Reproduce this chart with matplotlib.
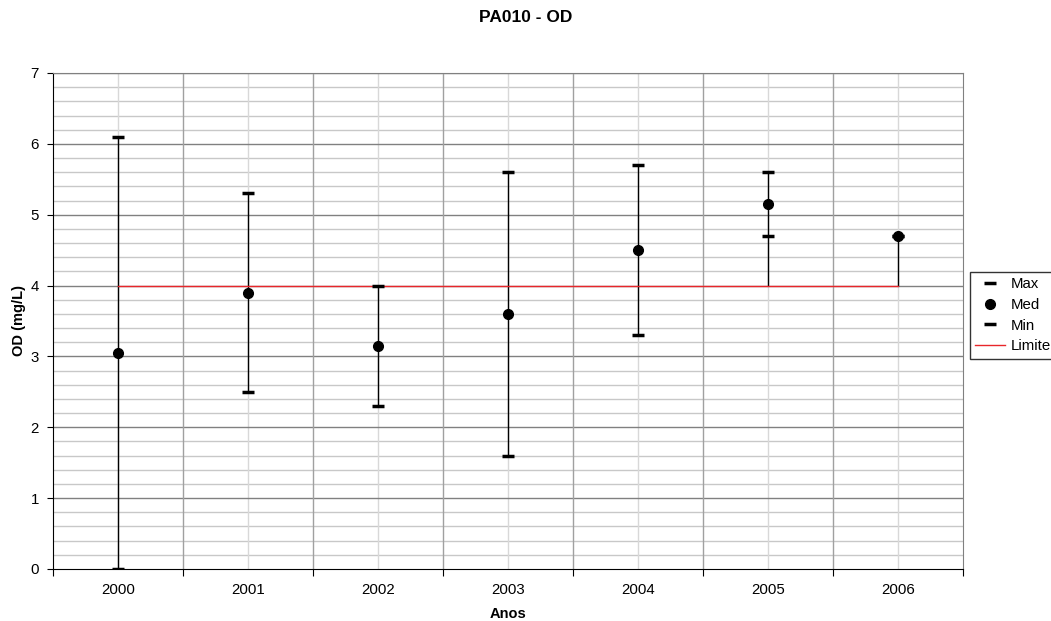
import numpy as np
import matplotlib
matplotlib.use("Agg")
import matplotlib.pyplot as plt
from matplotlib.ticker import MultipleLocator

plt.rcParams['font.family'] = ['Liberation Sans', 'DejaVu Sans']

years = ['2000', '2001', '2002', '2003', '2004', '2005', '2006']
max_vals = [6.1, 5.3, 4.0, 5.6, 5.7, 5.6, 4.7]
med_vals = [3.05, 3.9, 3.15, 3.6, 4.5, 5.15, 4.7]
min_vals = [0.0, 2.5, 2.3, 1.6, 3.3, 4.7, 4.7]
limite = [4, 4, 4, 4, 4, 4, 4]

fig = plt.figure(figsize=(10.51, 6.21), dpi=100)
ax = fig.add_axes([53/1051, 1-569/621, 910/1051, (569-73)/621])

x = np.arange(len(years))
allv = np.vstack([max_vals, med_vals, min_vals, limite])
lo = allv.min(axis=0)
hi = allv.max(axis=0)

ax.set_xlim(-0.5, len(years)-0.5)
ax.set_ylim(0, 7)

# grid
ax.yaxis.set_major_locator(MultipleLocator(1))
for yv in np.arange(0.2, 7.0, 0.2):
    if abs(yv - round(yv)) < 1e-6:
        continue
    ax.axhline(yv, color='#c8c8c8', lw=1.0, zorder=0)
for yv in range(1, 8):
    ax.axhline(yv, color='#808080', lw=1.0, zorder=0.5)
for xv in x:
    ax.axvline(xv, color='#d8d8d8', lw=1.0, zorder=0)
for xv in np.arange(0.5, len(years)-0.5, 1):
    ax.axvline(xv, color='#a0a0a0', lw=1.0, zorder=0.5)

ax.vlines(x, lo, hi, color='black', lw=1.0, zorder=2)
l_lim, = ax.plot(x, limite, color='#e8262a', lw=1.0, zorder=3, label='Limite')
l_max, = ax.plot(x, max_vals, ls='none', marker='_', ms=8, mew=2.5, color='black', zorder=4, label='Max')
l_min, = ax.plot(x, min_vals, ls='none', marker='_', ms=8, mew=2.5, color='black', zorder=4, label='Min')
l_med, = ax.plot(x, med_vals, ls='none', marker='o', ms=7, color='black', zorder=5, label='Med')

ax.set_xticks(np.arange(-0.5, len(years), 1))
ax.set_xticklabels([])
ax.set_xticks(x, minor=True)
ax.set_xticklabels(years, minor=True)
ax.tick_params(axis='x', which='major', length=5, direction='out', color='black')
ax.tick_params(axis='x', which='minor', length=0, pad=10, labelsize=10.8)
ax.tick_params(axis='y', which='major', length=4, direction='out', labelsize=10.8, pad=6)
ax.tick_params(axis='y', which='minor', length=0)

for s in ['top', 'right']:
    ax.spines[s].set_color('#808080')
for s in ['left', 'bottom']:
    ax.spines[s].set_color('black')

fig.text(0.5, 1-18/621, 'PA010 - OD', ha='center', va='center', fontsize=12.5, fontweight='bold')
fig.text(508/1051, 1-614/621, 'Anos', ha='center', va='center', fontsize=10.5, fontweight='bold')
fig.text(19/1051, 1-321/621, 'OD (mg/L)', ha='center', va='center', rotation=90, fontsize=10.5, fontweight='bold')

leg = fig.legend(handles=[l_max, l_med, l_min, l_lim], labels=['Max', 'Med', 'Min', 'Limite'],
                 loc='upper left', bbox_to_anchor=(970/1051, 1-272/621), frameon=True,
                 fancybox=False, edgecolor='black', fontsize=10.8, handlelength=2.0,
                 handletextpad=0.4, borderpad=0.35, labelspacing=0.45, borderaxespad=0)
leg.get_frame().set_linewidth(1.0)

fig.savefig('out.png', dpi=100)
